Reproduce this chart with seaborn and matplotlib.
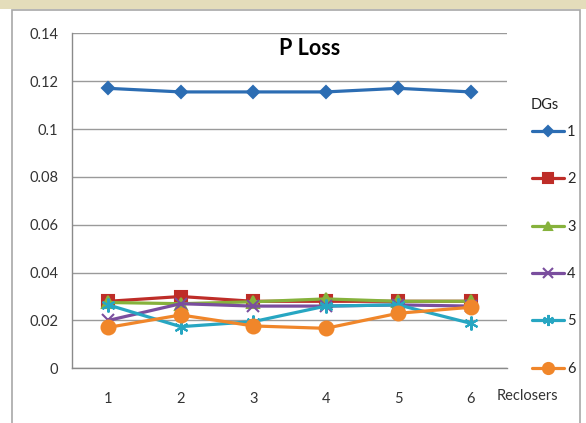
import pandas as pd
import numpy as np
import matplotlib
matplotlib.use("Agg")
import matplotlib.pyplot as plt
import seaborn as sns
from matplotlib.patches import Rectangle

# data
reclosers = [1, 2, 3, 4, 5, 6]
dg_names = ["1", "2", "3", "4", "5", "6"]
dg1 = [0.117, 0.1155, 0.1155, 0.1155, 0.117, 0.1155]
dg2 = [0.028, 0.030, 0.028, 0.028, 0.028, 0.028]
dg3 = [0.0275, 0.027, 0.0278, 0.029, 0.028, 0.028]
dg4 = [0.020, 0.027, 0.026, 0.026, 0.0265, 0.026]
dg5 = [0.0265, 0.0174, 0.0195, 0.026, 0.0265, 0.0188]
dg6 = [0.0171, 0.0223, 0.0177, 0.0167, 0.023, 0.0255]
y_ticks = [0, 0.02, 0.04, 0.06, 0.08, 0.1, 0.12, 0.14]
y_tick_labels = ["0", "0.02", "0.04", "0.06", "0.08", "0.1", "0.12", "0.14"]

series = [dg1, dg2, dg3, dg4, dg5, dg6]
rows = []
for name, vals in zip(dg_names, series):
    for r, v in zip(reclosers, vals):
        rows.append({"Reclosers": r, "P Loss": v, "DGs": name})
df = pd.DataFrame(rows)

colors = {"1": "#2C6DB3", "2": "#BE2D28", "3": "#86B23C",
          "4": "#7A4E9E", "5": "#27A6C2", "6": "#F0862A"}
markers = {"1": "D", "2": "s", "3": "^", "4": "x", "5": (6, 2, 0), "6": "o"}
msizes = {"1": 6, "2": 9, "3": 8, "4": 9, "5": 10, "6": 10}

sns.set_style("white")
plt.rcParams['font.family'] = ['Lato', 'DejaVu Sans']

fig = plt.figure(figsize=(5.86, 4.23), dpi=100)
fig.patch.set_facecolor("white")
# beige band and chart frame like the source image
fig.patches.append(Rectangle((0, 1 - 9 / 423), 1, 9 / 423, transform=fig.transFigure,
                             facecolor="#E4DDBB", edgecolor="none", zorder=-2))
fig.patches.append(Rectangle((12 / 586, -0.05), (580 - 12) / 586, (423 + 21 - 10) / 423,
                             transform=fig.transFigure, facecolor="white",
                             edgecolor="#A8A8A8", linewidth=1.2, zorder=-1))

ax = fig.add_axes([72 / 586, (423 - 368.3) / 423, (507 - 72) / 586, (368.3 - 33.3) / 423])
ax.set_facecolor("none")
ax.set_zorder(2)

for name in dg_names:
    sub = df[df["DGs"] == name]
    sns.lineplot(data=sub, x="Reclosers", y="P Loss", ax=ax, color=colors[name],
                 linewidth=2.3, marker=markers[name], markersize=msizes[name],
                 markeredgecolor=colors[name], markeredgewidth=1.5,
                 label=name, zorder=3)

ax.set_xlim(0.5, 6.5)
ax.set_ylim(0, 0.14)
ax.set_yticks(y_ticks)
ax.set_yticklabels(y_tick_labels)
ax.yaxis.grid(True, color="#9A9A9A", linewidth=1.0, zorder=0)

ax.set_xticks(np.arange(0.5, 7.0, 1.0))
ax.set_xticklabels([""] * 7)
ax.set_xticks(reclosers, minor=True)
ax.set_xticklabels([str(r) for r in reclosers], minor=True)
ax.tick_params(axis="x", which="major", direction="out", length=5, width=1, color="#8A8A8A")
ax.tick_params(axis="x", which="minor", length=0, pad=17, labelsize=10.5, labelcolor="#333333")
ax.tick_params(axis="y", direction="out", length=5, width=1, color="#8A8A8A",
               labelsize=10.5, labelcolor="#333333", pad=5)

for side in ["top", "right"]:
    ax.spines[side].set_visible(False)
for side in ["left", "bottom"]:
    ax.spines[side].set_color("#8A8A8A")
    ax.spines[side].set_linewidth(1.0)

ax.set_xlabel("")
ax.set_ylabel("")
ax.text(0.547, 0.956, "P Loss", transform=ax.transAxes, ha="center", va="center",
        fontsize=15.5, fontweight="bold", color="black")
fig.text(527 / 586, 1 - 396 / 423, "Reclosers", ha="center", va="center",
         fontsize=10.5, color="#333333")

# legend title drawn apart so the gap to the first entry stays short
fig.text(545 / 586, 1 - 105 / 423, "DGs", ha="center", va="center",
         fontsize=10.5, color="#222222")
ax.legend(loc="upper left", bbox_to_anchor=(1.044, 0.744),
          frameon=False, fontsize=10.5, markerscale=0.8,
          handlelength=2.2, handletextpad=0.2, labelspacing=2.29,
          borderaxespad=0)

fig.savefig("out.png", dpi=100, facecolor=fig.get_facecolor())
